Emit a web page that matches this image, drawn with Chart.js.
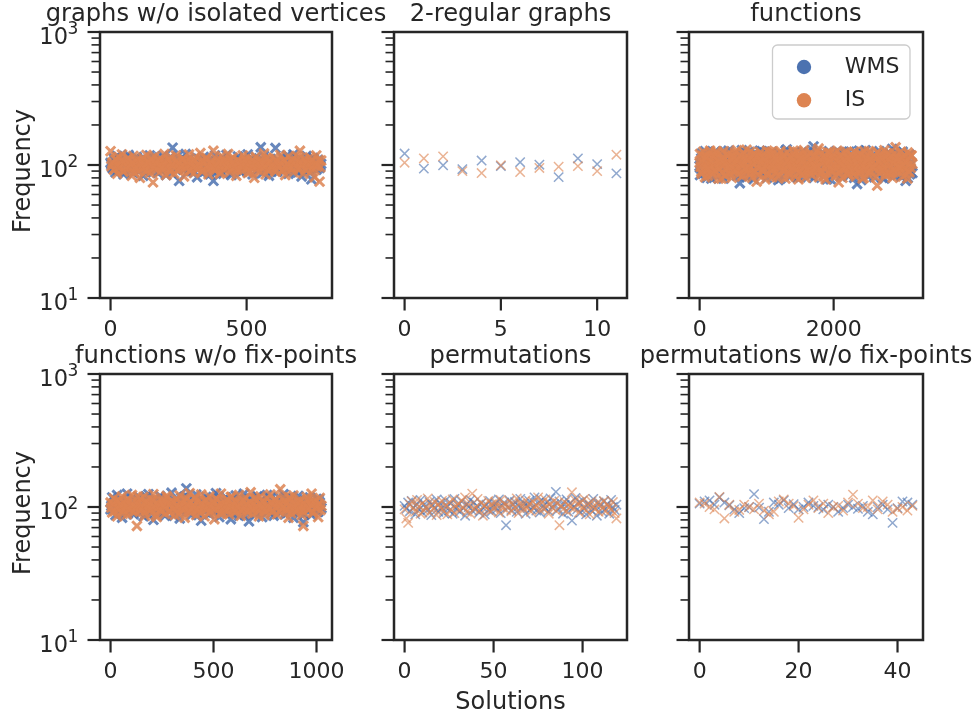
<!DOCTYPE html>
<html><head><meta charset="utf-8">
<script src="https://cdn.jsdelivr.net/npm/chart.js@4/dist/chart.umd.min.js"></script>
<style>
html,body{margin:0;padding:0;background:#fff;overflow:hidden;}
#fig{position:relative;width:978px;height:716px;overflow:hidden;background:#fff;}
#fig canvas{position:absolute;}
</style></head><body><div id="fig"></div>
<script>
// ---------------- DATA ----------------
const seriesNames = ['WMS', 'IS'];
const panelTitles = ['graphs w/o isolated vertices', '2-regular graphs', 'functions',
  'functions w/o fix-points', 'permutations', 'permutations w/o fix-points'];
const yAxisTitle = 'Frequency';
const xAxisTitle = 'Solutions';
const yTickValues = [10,20,30,40,50,60,70,80,90,100,200,300,400,500,600,700,800,900,1000];
const yMajorTicks = [10, 100, 1000];
const yTickExponents = {10: '1', 100: '2', 1000: '3'};

const xTicksGraphs = [0, 500];
const xTicksTwoReg = [0, 5, 10];
const xTicksFunc = [0, 2000];
const xTicksFuncNoFix = [0, 500, 1000];
const xTicksPerm = [0, 50, 100];
const xTicksPermNoFix = [0, 20, 40];

// graphs w/o isolated vertices (sampled solutions, two interleaved samples)
const graphsSolutions = [0,6,12,18,24,30,36,42,48,54,60,66,72,78,84,90,96,102,108,114,120,126,132,138,144,150,156,162,168,174,180,186,192,198,204,210,216,222,228,234,240,246,252,258,264,270,276,282,288,294,300,306,312,318,324,330,336,342,348,354,360,366,372,378,384,390,396,402,408,414,420,426,432,438,444,450,456,462,468,474,480,486,492,498,504,510,516,522,528,534,540,546,552,558,564,570,576,582,588,594,600,606,612,618,624,630,636,642,648,654,660,666,672,678,684,690,696,702,708,714,720,726,732,738,744,750,756,762,768,774];
const graphsWMS = [104,96,112,88,117,99,91,106,85,113, 97,119,93,101,87,109,115,90,104,98, 83,111,96,107,118,89,100,94,112,87, 105,92,117,99,84,108,96,114,135,103, 97,116,76,110,101,93,121,88,106,95, 100,90,102,81,111,98,87,115,104,92, 100,85,109,76,118,89,105,93,112,86, 101,119,94,107,84,110,99,91,116,103, 88,97,113,95,120,90,106,85,102,114, 92,99,136,87,117,96,104,83,111,100, 93,134,89,107,97,115,91,103,118,86, 110,98,120,94,105,88,112,82,101,96, 117,90,106,78,113,99,92,109,95,102];
const graphsIS = [127,103,92,110,86,115,98,120,89,106, 94,112,101,83,117,96,108,90,80,104, 113,91,119,99,87,107,74,116,95,102, 88,110,97,121,84,105,93,114,100,86, 118,92,103,96,111,82,107,99,120,90, 105,87,115,94,101,123,89,108,97,113, 85,104,96,128,91,110,100,86,117,93, 106,98,121,88,102,114,95,83,109,101, 92,118,99,107,87,112,96,104,80,115, 100,90,108,97,122,85,103,111,94,99, 113,89,105,96,119,91,107,84,101,116, 95,109,88,102,117,93,128,99,86,110, 104,97,114,90,106,81,118,100,75,108];
const graphsSolutions2 = [3,9,15,21,27,33,39,45,51,57,63,69,75,81,87,93,99,105,111,117,123,129,135,141,147,153,159,165,171,177,183,189,195,201,207,213,219,225,231,237,243,249,255,261,267,273,279,285,291,297,303,309,315,321,327,333,339,345,351,357,363,369,375,381,387,393,399,405,411,417,423,429,435,441,447,453,459,465,471,477,483,489,495,501,507,513,519,525,531,537,543,549,555,561,567,573,579,585,591,597,603,609,615,621,627,633,639,645,651,657,663,669,675,681,687,693,699,705,711,717,723,729,735,741,747,753,759,765,771];
const graphsWMS2 = [101,94,108,99,91,105,97,112,89,103, 96,107,100,93,110,98,104,90,106,95, 102,88,109,97,101,114,92,105,99,96, 108,91,103,100,94,111,98,87,106,102, 95,109,99,104,92,100,107,96,113,90, 103,98,105,93,101,110,97,89,104,99, 92,106,100,95,108,102,91,105,97,111, 98,94,103,100,88,107,96,102,109,93, 101,105,97,90,104,99,112,95,100,106, 92,103,98,108,94,101,96,110,89,105, 99,93,107,102,97,104,91,100,113,95, 106,98,102,90,109,96,103,99,94,107, 100,92,105,97,111,101,95,104,98];
const graphsIS2 = [98,105,93,110,101,96,107,90,103,99, 112,95,100,104,88,106,97,102,109,94, 101,98,91,105,100,113,96,103,92,108, 99,94,106,101,97,110,89,104,100,95, 107,102,93,98,111,96,105,100,91,103, 97,108,94,101,99,106,90,104,112,98, 95,102,109,93,100,97,105,88,103,107, 101,96,99,110,94,104,98,92,106,100, 97,103,111,95,101,89,108,99,104,93, 100,106,96,102,98,113,91,105,97,101, 94,107,100,99,103,90,109,96,102,98, 105,93,101,108,97,104,95,100,111,92, 103,99,106,94,100,102,97,109,96];

// 2-regular graphs (all 12 solutions)
const twoRegWMS = [122,94,99.5,93,108,98,105,100.5,81,112,101.5,86.5];
const twoRegIS = [104,112,116,90,87,99.5,88.5,95,97,98,90,119.5];

// functions (sampled solutions, three interleaved samples)
const funcSolutions = [0,25,50,75,100,125,150,175,200,225,250,275,300,325,350,375,400,425,450,475,500,525,550,575,600,625,650,675,700,725,750,775,800,825,850,875,900,925,950,975,1000,1025,1050,1075,1100,1125,1150,1175,1200,1225,1250,1275,1300,1325,1350,1375,1400,1425,1450,1475,1500,1525,1550,1575,1600,1625,1650,1675,1700,1725,1750,1775,1800,1825,1850,1875,1900,1925,1950,1975,2000,2025,2050,2075,2100,2125,2150,2175,2200,2225,2250,2275,2300,2325,2350,2375,2400,2425,2450,2475,2500,2525,2550,2575,2600,2625,2650,2675,2700,2725,2750,2775,2800,2825,2850,2875,2900,2925,2950,2975,3000,3025,3050,3075,3100,3125,3150,3175];
const funcWMS = [98,112,86,104,121,93,107,79,115,101, 90,118,96,109,84,126,99,92,111,103, 87,105,119,95,73,108,100,124,89,113, 97,106,82,116,102,94,128,88,110,99, 121,85,104,96,117,91,107,77,112,100, 93,109,131,86,103,118,95,105,81,114, 99,125,90,108,97,84,116,102,138,92, 106,87,113,100,122,94,78,110,96,119, 103,89,115,98,107,83,126,93,101,111, 86,117,97,104,72,120,92,108,99,129, 95,112,85,106,118,100,90,123,97,80, 109,94,114,88,103,132,96,107,84,116, 101,91,119,76,110,98,105,87];
const funcIS = [104,89,117,95,108,83,122,99,112,91, 127,97,106,79,114,101,93,119,86,110, 100,124,92,107,96,116,84,103,130,94, 111,88,102,120,75,109,98,115,90,105, 85,113,99,126,93,104,81,118,97,108, 119,92,106,87,112,100,128,95,103,78, 109,96,121,89,114,101,86,107,93,117, 98,133,91,105,82,116,99,110,123,88, 113,95,104,74,118,92,108,100,125,90, 102,117,86,111,97,121,94,106,80,115, 99,127,89,108,96,112,70,104,118,93, 107,85,122,100,115,91,103,136,97,110, 88,114,99,106,79,120,95,102];
const funcSolutions2 = [12,37,62,87,112,137,162,187,212,237,262,287,312,337,362,387,412,437,462,487,512,537,562,587,612,637,662,687,712,737,762,787,812,837,862,887,912,937,962,987,1012,1037,1062,1087,1112,1137,1162,1187,1212,1237,1262,1287,1312,1337,1362,1387,1412,1437,1462,1487,1512,1537,1562,1587,1612,1637,1662,1687,1712,1737,1762,1787,1812,1837,1862,1887,1912,1937,1962,1987,2012,2037,2062,2087,2112,2137,2162,2187,2212,2237,2262,2287,2312,2337,2362,2387,2412,2437,2462,2487,2512,2537,2562,2587,2612,2637,2662,2687,2712,2737,2762,2787,2812,2837,2862,2887,2912,2937,2962,2987,3012,3037,3062,3087,3112,3137,3162];
const funcWMS2 = [103,95,110,88,106,99,117,92,101,108, 85,112,97,104,93,120,100,89,107,96, 114,102,91,109,98,83,105,118,94,101, 111,87,103,99,115,92,106,97,124,90, 108,100,95,113,86,104,98,110,93,119, 101,96,107,89,116,102,94,105,81,112, 99,109,92,103,97,121,88,106,100,114, 95,102,110,91,104,98,117,84,107,100, 93,111,96,105,122,90,101,108,97,115, 87,103,99,112,94,106,77,109,100,95, 118,92,104,98,110,86,102,113,96,107, 91,105,100,120,94,101,108,89,103,97, 116,93,106,99,111,85,102];
const funcIS2 = [97,108,91,114,102,95,106,87,111,100, 119,93,104,98,110,84,107,101,96,116, 89,103,112,94,105,99,122,92,108,97, 86,113,100,106,95,118,102,90,109,98, 104,125,93,101,111,88,107,96,103,115, 92,100,108,82,105,97,113,99,94,120, 103,89,110,101,96,107,91,117,100,105, 98,112,87,104,95,109,102,123,93,100, 114,97,106,90,101,111,96,104,85,108, 99,116,94,102,107,92,119,100,97,105, 89,110,103,96,113,98,91,106,101,121, 95,104,99,109,87,102,115,93,107,100, 98,112,94,105,90,103,118];
const funcSolutions3 = [6,31,56,81,106,131,156,181,206,231,256,281,306,331,356,381,406,431,456,481,506,531,556,581,606,631,656,681,706,731,756,781,806,831,856,881,906,931,956,981,1006,1031,1056,1081,1106,1131,1156,1181,1206,1231,1256,1281,1306,1331,1356,1381,1406,1431,1456,1481,1506,1531,1556,1581,1606,1631,1656,1681,1706,1731,1756,1781,1806,1831,1856,1881,1906,1931,1956,1981,2006,2031,2056,2081,2106,2131,2156,2181,2206,2231,2256,2281,2306,2331,2356,2381,2406,2431,2456,2481,2506,2531,2556,2581,2606,2631,2656,2681,2706,2731,2756,2781,2806,2831,2856,2881,2906,2931,2956,2981,3006,3031,3056,3081,3106,3131,3156];
const funcWMS3 = [84,122,91,127,80,116,88,119,95,126, 82,113,87,124,79,110,93,128,85,117, 90,121,83,114,97,129,86,111,81,125, 92,118,78,123,89,115,84,127,96,112, 80,120,87,126,91,116,83,122,79,113, 94,128,85,119,82,111,90,124,86,117, 81,125,93,114,88,121,84,129,80,118, 95,112,87,123,83,116,91,127,78,120, 86,113,92,125,82,119,89,111,84,126, 97,115,80,122,88,128,85,117,93,110, 83,124,90,118,81,114,87,127,94,121, 79,116,86,123,92,112,84,125,89,119, 82,126,95,113,80,120,88];
const funcIS3 = [121,86,126,81,115,93,128,84,118,90, 124,79,112,88,127,83,119,95,122,80, 114,91,129,85,117,82,123,94,111,87, 126,80,120,89,116,84,125,92,113,78, 128,86,119,81,122,95,110,83,127,90, 117,79,124,87,115,93,121,82,126,88, 112,85,129,80,118,91,123,84,114,96, 127,81,120,89,116,78,125,86,111,92, 122,83,128,87,117,80,124,94,113,85, 119,90,126,82,115,88,121,79,127,93, 110,84,123,96,118,81,125,87,114,91, 129,83,120,86,116,80,122,89,112,95, 126,82,119,85,124,88,117];

// functions w/o fix-points (sampled solutions, two interleaved samples)
const funcNoFixSolutions = [0,8,16,24,32,40,48,56,64,72,80,88,96,104,112,120,128,136,144,152,160,168,176,184,192,200,208,216,224,232,240,248,256,264,272,280,288,296,304,312,320,328,336,344,352,360,368,376,384,392,400,408,416,424,432,440,448,456,464,472,480,488,496,504,512,520,528,536,544,552,560,568,576,584,592,600,608,616,624,632,640,648,656,664,672,680,688,696,704,712,720,728,736,744,752,760,768,776,784,792,800,808,816,824,832,840,848,856,864,872,880,888,896,904,912,920,928,936,944,952,960,968,976,984,992,1000,1008,1016,1024];
const funcNoFixWMS = [96,118,104,87,123,99,110,83,107,92, 126,101,94,114,88,105,97,119,90,108, 85,112,100,125,93,106,80,116,98,103, 121,91,109,86,115,102,95,128,89,111, 99,106,82,117,94,120,138,97,108,87, 113,100,124,91,104,79,110,96,119,102, 88,115,107,93,127,99,84,112,101,95, 118,90,105,81,109,97,122,103,86,114, 100,126,92,108,78,116,98,104,89,120, 95,111,84,107,101,123,93,117,99,86, 109,97,119,90,104,125,88,113,102,94, 116,83,106,99,121,91,110,77,103,112, 96,118,87,105,100,115,92,108,98];
const funcNoFixIS = [108,91,116,99,85,112,102,120,94,105, 88,110,97,123,101,93,72,107,115,96, 119,86,104,98,113,90,125,100,84,109, 95,117,103,89,121,106,92,111,98,87, 114,100,122,94,108,83,116,99,127,91, 103,118,87,110,96,124,101,85,112,97, 120,93,106,81,115,102,98,126,90,107, 96,113,88,119,104,92,110,100,123,86, 109,97,117,94,102,129,89,105,114,99, 85,120,101,108,93,116,97,124,91,106, 112,88,103,136,98,118,94,107,83,115, 100,122,92,110,96,113,87,72,104,119, 95,108,126,90,111,99,84,117,102];
const funcNoFixSolutions2 = [4,12,20,28,36,44,52,60,68,76,84,92,100,108,116,124,132,140,148,156,164,172,180,188,196,204,212,220,228,236,244,252,260,268,276,284,292,300,308,316,324,332,340,348,356,364,372,380,388,396,404,412,420,428,436,444,452,460,468,476,484,492,500,508,516,524,532,540,548,556,564,572,580,588,596,604,612,620,628,636,644,652,660,668,676,684,692,700,708,716,724,732,740,748,756,764,772,780,788,796,804,812,820,828,836,844,852,860,868,876,884,892,900,908,916,924,932,940,948,956,964,972,980,988,996,1004,1012,1020];
const funcNoFixWMS2 = [102,95,109,98,104,91,113,100,96,107, 89,105,101,117,94,103,99,110,92,106, 97,120,100,87,108,96,104,112,93,101, 98,106,90,115,103,95,109,100,86,105, 111,97,102,94,118,99,107,92,104,100, 96,110,88,103,98,114,101,93,106,97, 108,102,91,105,99,121,95,100,109,94, 103,97,112,90,106,101,98,116,93,104, 100,87,108,96,102,111,99,94,105,119, 92,103,98,107,100,95,113,89,104,101, 97,110,93,106,99,102,117,96,100,91, 108,104,98,112,95,101,103,88,106,99, 94,109,100,97,105,92,114,102];
const funcNoFixIS2 = [99,106,93,111,101,96,104,89,108,100, 115,97,103,92,107,99,120,94,102,105, 91,109,98,104,96,113,100,87,106,101, 95,110,103,97,118,92,105,99,108,94, 102,88,107,100,96,112,104,93,109,98, 101,117,95,103,90,106,99,111,97,104, 92,100,108,96,114,102,89,105,98,110, 103,94,101,119,97,106,93,100,107,95, 112,99,104,91,109,102,96,116,100,93, 105,98,110,87,103,101,97,108,94,113, 100,106,92,104,99,111,96,102,118,90, 107,98,103,95,109,101,93,105,100,114, 97,104,91,108,99,102,106,95];

// permutations (all 120 solutions)
const permWMS = [102,97,108,93,111,99,88,105,96,113, 91,104,100,95,109,87,103,98,114,92, 106,99,90,112,101,94,107,89,115,97, 103,92,110,98,86,105,100,113,94,108, 96,101,91,107,99,88,104,95,111,93, 100,106,97,114,90,102,108,73,99,112, 95,104,109,92,101,115,98,106,89,103, 111,96,100,118,94,107,91,113,102,97, 108,93,116,99,105,130,95,110,101,89, 104,114,92,107,79,100,117,96,109,91, 112,98,88,106,103,94,115,99,86,108, 101,92,110,97,105,89,113,100,95,104];
const permIS = [96,82,76,104,110,98,92,113,101,89, 107,94,100,116,91,103,97,109,87,105, 99,111,93,102,88,108,96,114,90,101, 106,95,112,99,118,92,104,89,126,97, 100,115,94,107,86,103,98,111,93,105, 97,109,101,91,113,99,106,95,102,110, 93,104,99,116,90,107,101,96,112,98, 105,92,110,100,103,118,95,108,97,114, 101,89,106,99,111,94,107,73,102,96, 109,93,104,100,129,97,112,105,91,108, 99,115,94,103,88,110,101,96,107,92, 106,98,111,93,104,100,95,109,90,82];

// permutations w/o fix-points (all 44 solutions)
const permNoFixWMS = [106,110,112,104,118,108,103,96,90,98, 100,125,99,81,92,108,104,112,98,105, 96,100,108,102,100,96,104,100,92,98, 104,100,97,102,92,88,100,104,96,76, 98,110,108,104];
const permNoFixIS = [108,106,100,96,119,82,104,92,95,104, 100,96,106,94,88,92,110,114,106,102, 83,96,104,112,98,106,90,100,102,94, 108,124,106,98,100,112,96,110,104,92, 97,100,94,102];

// ---------------- RENDERING ----------------
const ink = '#262626';
const FONT = '"DejaVu Sans"';
const blueRGB = '76,114,176';
const orangeRGB = '221,132,82';

const seq = (vals, xs) => vals.map((v, i) => ({x: xs ? xs[i] : i, y: v}));

const panels = [
  {title: panelTitles[0], wms: seq(graphsWMS, graphsSolutions).concat(seq(graphsWMS2, graphsSolutions2)),
   is: seq(graphsIS, graphsSolutions).concat(seq(graphsIS2, graphsSolutions2)),
   xTicks: xTicksGraphs, xMin: -38.75, xMax: 813.75, col: 0, row: 0, dense: true},
  {title: panelTitles[1], wms: seq(twoRegWMS), is: seq(twoRegIS), xTicks: xTicksTwoReg, xMin: -0.55, xMax: 11.55, col: 1, row: 0, dense: false},
  {title: panelTitles[2], wms: seq(funcWMS, funcSolutions).concat(seq(funcWMS2, funcSolutions2), seq(funcWMS3, funcSolutions3)),
   is: seq(funcIS, funcSolutions).concat(seq(funcIS2, funcSolutions2), seq(funcIS3, funcSolutions3)),
   xTicks: xTicksFunc, xMin: -158.7, xMax: 3333.7, col: 2, row: 0, dense: true, legend: true},
  {title: panelTitles[3], wms: seq(funcNoFixWMS, funcNoFixSolutions).concat(seq(funcNoFixWMS2, funcNoFixSolutions2)),
   is: seq(funcNoFixIS, funcNoFixSolutions).concat(seq(funcNoFixIS2, funcNoFixSolutions2)),
   xTicks: xTicksFuncNoFix, xMin: -51.2, xMax: 1075.2, col: 0, row: 1, dense: true},
  {title: panelTitles[4], wms: seq(permWMS), is: seq(permIS), xTicks: xTicksPerm, xMin: -5.95, xMax: 124.95, col: 1, row: 1, dense: false, xlabel: true},
  {title: panelTitles[5], wms: seq(permNoFixWMS), is: seq(permNoFixIS), xTicks: xTicksPermNoFix, xMin: -2.15, xMax: 45.15, col: 2, row: 1, dense: false}
];

const cols = [{L: 100, R: 332}, {L: 394, R: 627}, {L: 689, R: 923}];
const rows = [{T: 32, B: 298}, {T: 374, B: 640}];
const PADL = 100, PADR = 100, PADT = 45, PADB = 80;

const decor = {
  id: 'panelDecor',
  afterDraw(chart, args, o) {
    const ctx = chart.ctx, a = chart.chartArea;
    const line = (x1, y1, x2, y2) => { ctx.beginPath(); ctx.moveTo(x1, y1); ctx.lineTo(x2, y2); ctx.stroke(); };
    ctx.save();
    ctx.strokeStyle = ink;
    ctx.fillStyle = ink;
    const ys = chart.scales.y, xs = chart.scales.x;
    for (const v of yTickValues) {
      const p = ys.getPixelForValue(v);
      const major = yMajorTicks.includes(v);
      ctx.lineWidth = major ? 2.2 : 1.6;
      line(a.left - (major ? 12.5 : 8.5), p, a.left, p);
      if (major && o.ylabels) {
        ctx.textBaseline = 'alphabetic';
        ctx.textAlign = 'right';
        ctx.font = '22.5px ' + FONT;
        ctx.fillText('10', a.left - 32, p + 12.3);
        ctx.textAlign = 'left';
        ctx.font = '17px ' + FONT;
        ctx.fillText(yTickExponents[v], a.left - 32.5, p + 2.4);
      }
    }
    ctx.lineWidth = 2.2;
    ctx.textAlign = 'center';
    ctx.textBaseline = 'alphabetic';
    ctx.font = '22px ' + FONT;
    for (const t of xs.ticks) {
      const p = xs.getPixelForValue(t.value);
      line(p, a.bottom, p, a.bottom + 12.5);
      ctx.fillText(String(t.value), p, a.bottom + 38);
    }
    ctx.lineWidth = 2.5;
    ctx.strokeRect(a.left, a.top, a.right - a.left, a.bottom - a.top);

    ctx.textAlign = 'center';
    ctx.font = '24.2px ' + FONT;
    ctx.fillText(o.title, (a.left + a.right) / 2, a.top - 11);
    if (o.ylabel) {
      ctx.save();
      ctx.translate(a.left - 70.5, (a.top + a.bottom) / 2 + 6);
      ctx.rotate(-Math.PI / 2);
      ctx.font = '24px ' + FONT;
      ctx.fillText(yAxisTitle, 0, 0);
      ctx.restore();
    }
    if (o.xlabel) {
      ctx.font = '24px ' + FONT;
      ctx.fillText(xAxisTitle, (a.left + a.right) / 2, a.bottom + 69);
    }
    if (o.legend) {
      const w = 137.5, h = 74;
      const bx = a.right - 13 - w, by = a.top + 13;
      ctx.beginPath();
      ctx.roundRect(bx, by, w, h, 5);
      ctx.fillStyle = 'rgba(255,255,255,0.8)';
      ctx.fill();
      ctx.lineWidth = 1.3;
      ctx.strokeStyle = '#cccccc';
      ctx.stroke();
      const items = chart.data.datasets.slice().sort((p, q) => p.legendIndex - q.legendIndex);
      items.forEach((ds, i) => {
        const cy = by + 22 + i * 33.3;
        ctx.beginPath();
        ctx.arc(bx + 31.5, cy, 7.2, 0, Math.PI * 2);
        ctx.fillStyle = ds.solidColor;
        ctx.fill();
        ctx.fillStyle = ink;
        ctx.textAlign = 'left';
        ctx.font = '22px ' + FONT;
        ctx.fillText(ds.label, bx + 72.3, cy + 5.8);
      });
    }
    ctx.restore();
  }
};

const fig = document.getElementById('fig');
panels.forEach(p => {
  const c = cols[p.col], r = rows[p.row];
  const W = (c.R - c.L) + PADL + PADR, H = (r.B - r.T) + PADT + PADB;
  const cv = document.createElement('canvas');
  cv.width = W; cv.height = H;
  cv.style.left = (c.L - PADL) + 'px'; cv.style.top = (r.T - PADT) + 'px';
  cv.style.width = W + 'px'; cv.style.height = H + 'px';
  fig.appendChild(cv);
  const alpha = p.dense ? 0.85 : 0.62;
  const bw = p.dense ? 3 : 1.5;
  const mk = (label, data, rgb, order, li) => ({
    label, data, order, legendIndex: li,
    solidColor: 'rgb(' + rgb + ')',
    pointStyle: 'crossRot', pointRadius: 6.6, pointHoverRadius: 6.6,
    pointBorderWidth: bw, pointHoverBorderWidth: bw,
    pointBorderColor: 'rgba(' + rgb + ',' + alpha + ')',
    pointBackgroundColor: 'rgba(' + rgb + ',' + alpha + ')',
    borderColor: 'rgba(' + rgb + ',' + alpha + ')',
    showLine: false
  });
  const firstCol = p.col === 0;
  const hiddenGrid = {display: true, drawOnChartArea: false, drawTicks: false, color: 'rgba(0,0,0,0)'};
  new Chart(cv, {
    type: 'scatter',
    data: {datasets: [
      mk(seriesNames[0], p.wms, blueRGB, 2, 0),
      mk(seriesNames[1], p.is, orangeRGB, 1, 1)
    ]},
    options: {
      responsive: false, animation: false, devicePixelRatio: 1,
      events: [],
      layout: {padding: {left: 0, right: PADR, top: PADT, bottom: 0}},
      plugins: {
        legend: {display: false}, tooltip: {enabled: false},
        panelDecor: {title: p.title, ylabel: firstCol, ylabels: firstCol, xlabel: !!p.xlabel, legend: !!p.legend}
      },
      scales: {
        x: {
          type: 'linear', min: p.xMin, max: p.xMax,
          afterBuildTicks: s => { s.ticks = p.xTicks.map(v => ({value: v})); },
          afterFit: s => { s.height = PADB; },
          grid: hiddenGrid, border: {display: false},
          ticks: {display: false, autoSkip: false}
        },
        y: {
          type: 'logarithmic', min: 10, max: 1000,
          afterBuildTicks: s => { s.ticks = yTickValues.map(v => ({value: v, major: yMajorTicks.includes(v)})); },
          afterFit: s => { s.width = PADL; },
          grid: hiddenGrid, border: {display: false},
          ticks: {display: false, autoSkip: false}
        }
      }
    },
    plugins: [decor]
  });
});
</script></body></html>
